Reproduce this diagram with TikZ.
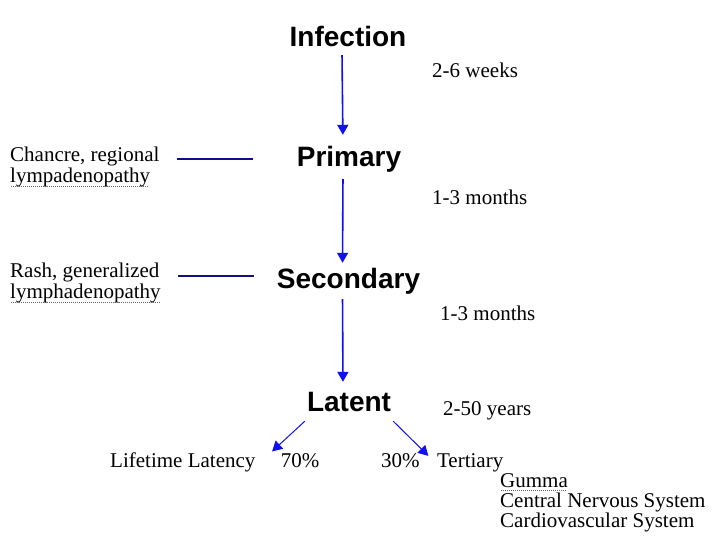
\documentclass[tikz,border=0pt]{standalone}
\usepackage{fontspec}
\setmainfont{Liberation Serif}
\newfontfamily\stagefont{Liberation Sans}
\usetikzlibrary{positioning,arrows.meta,calc}
\definecolor{azul}{HTML}{1010F0}
\definecolor{marino}{HTML}{101080}
% dotted spell-check underline
\newcommand{\spellul}[1]{\leavevmode\setbox0\hbox{#1}\rlap{\copy0}%
  \raisebox{-4pt}{\hbox to \wd0{\color{black!60}\leaders\hbox to 2pt{\hss\rule{1pt}{1pt}\hss}\hfill}}}

\begin{document}
\begin{tikzpicture}[x=1pt, y=-1pt,
      stage/.style={font=\stagefont\fontsize{28}{30}\selectfont\bfseries, inner sep=0pt,
                    text height=20pt, text depth=6pt},
      lbl/.style={font=\fontsize{21}{20}\selectfont, inner sep=0pt, align=left},
      t/.style={-{Triangle[length=10pt,width=11pt]}, azul, line width=1.6pt},
      d/.style={-{Triangle[length=10pt,width=11pt]}, azul, line width=1pt},
      l/.style={marino, line width=1.4pt}]

    \useasboundingbox[fill=white] (0,0) rectangle (720,540);

    % stages
    \node[stage] (inf) at (348,40) {Infection};
    \node[stage] (pri) at (349,160) {Primary};
    \node[stage] (sec) at (348.5,281) {Secondary};
    \node[stage] (lat) at (349,404) {Latent};

    \draw[t, shorten <=2pt, shorten >=12pt] ([xshift=-6pt]inf.south) -- ([xshift=-6pt]pri.north);
    \draw[t, shorten <=6pt, shorten >=5pt] ([xshift=-6pt]pri.south) -- ([xshift=-6pt]sec.north);
    \draw[t, shorten <=5pt, shorten >=9pt] ([xshift=-6pt]sec.south) -- ([xshift=-6pt]lat.north);

    % time spans
    \node[lbl, anchor=base west] (w26) at (432,78) {2-6 weeks};
    \node[lbl, anchor=base west] (m13a) at (432,205) {1-3 months};
    \node[lbl, anchor=base west] (m13b) at (440,320) {1-3 months};
    \node[lbl, anchor=base west] (y250) at (443,415) {2-50 years};

    % symptoms on the left
    \node[lbl, font=\fontsize{21}{21}\selectfont, anchor=north west] (chan) at (10,147)
      {Chancre, regional\\\spellul{lympadenopathy}};
    \node[lbl, font=\fontsize{21}{21}\selectfont, anchor=north west] (rash) at (10,263)
      {Rash, generalized\\\spellul{lymphadenopathy}};
    \draw[l, shorten <=17pt, shorten >=44pt] ($(chan.east |- pri.west)+(0,-1)$)
      -- ($(pri.west)+(0,-1)$);
    \draw[l, shorten <=17pt, shorten >=23pt] ($(rash.east |- sec.west)+(0,-5)$)
      -- ($(sec.west)+(0,-5)$);

    % outcomes
    \node[lbl, anchor=base west] (life) at (110,467) {Lifetime Latency};
    \node[lbl, right=25pt of life.base east, anchor=base west] (p70) {70\%};
    \node[lbl, anchor=base west] (p30) at (381,467) {30\%};
    \node[lbl, right=17pt of p30.base east, anchor=base west] (ter) {Tertiary};
    \node[lbl, anchor=north west] (terlist) at (500,473)
      {\spellul{Gumma}\\Central Nervous System\\Cardiovascular System};

    \draw[d] ([xshift=-2pt,yshift=-4pt]lat.south west) -- ($(life.north east)!0.5!(p70.north west)+(4,-1)$);
    \draw[d] ([xshift=2pt,yshift=-4pt]lat.south east) -- ($(p30.north east)!0.5!(ter.north west)+(0,3)$);
\end{tikzpicture}
\end{document}
